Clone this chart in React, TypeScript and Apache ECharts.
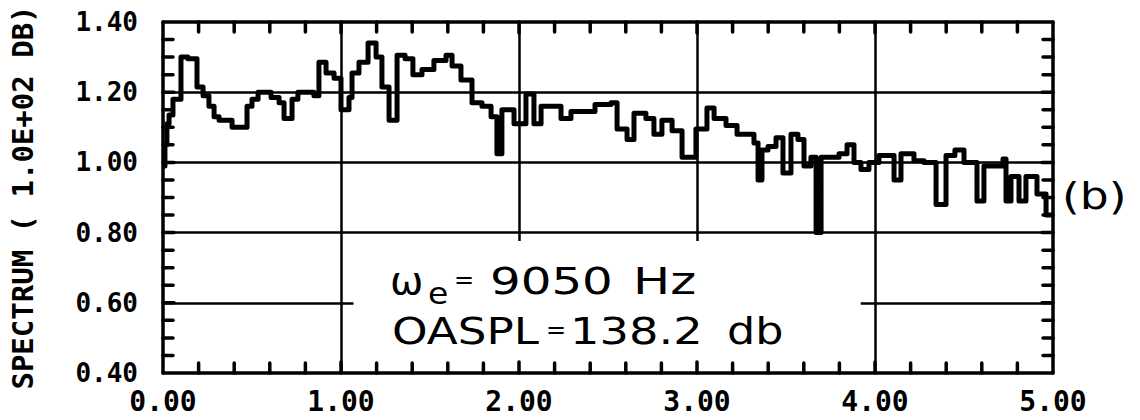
import React, { useEffect, useRef } from "react";
import * as echarts from "echarts";

// Frequency (bin start, same unit as the axis) and spectrum level (x 1.0E+02 dB)
const freq = [
  0.0, 0.011, 0.022, 0.034, 0.056, 0.101, 0.14, 0.191, 0.225, 0.258, 0.287, 0.315,
  0.388, 0.472, 0.5, 0.534, 0.607, 0.652, 0.68, 0.725, 0.758, 0.848, 0.876, 0.916,
  0.961, 1.0, 1.045, 1.062, 1.101, 1.152, 1.197, 1.23, 1.27, 1.315, 1.36, 1.404,
  1.455, 1.522, 1.59, 1.624, 1.674, 1.736, 1.792, 1.843, 1.876, 1.904, 1.972, 2.039,
  2.084, 2.124, 2.236, 2.292, 2.427, 2.517, 2.551, 2.607, 2.646, 2.713, 2.758, 2.803,
  2.86, 2.916, 2.994, 3.056, 3.096, 3.163, 3.225, 3.32, 3.343, 3.365, 3.399, 3.444,
  3.483, 3.528, 3.567, 3.601, 3.64, 3.669, 3.697, 3.798, 3.843, 3.882, 3.921, 3.966,
  4.022, 4.107, 4.146, 4.219, 4.275, 4.343, 4.399, 4.449, 4.5, 4.573, 4.612, 4.719,
  4.736, 4.764, 4.809, 4.848, 4.91, 4.961, 5.0,
];
const spectrum = [
  0.99, 1.05, 1.11, 1.135, 1.18, 1.3, 1.295, 1.215, 1.19, 1.16, 1.13, 1.12,
  1.1, 1.16, 1.18, 1.2, 1.185, 1.17, 1.125, 1.18, 1.2, 1.19, 1.285, 1.255,
  1.24, 1.15, 1.185, 1.255, 1.285, 1.34, 1.3, 1.215, 1.12, 1.305, 1.295, 1.25,
  1.265, 1.29, 1.305, 1.275, 1.235, 1.17, 1.16, 1.13, 1.025, 1.15, 1.11, 1.195,
  1.11, 1.16, 1.125, 1.145, 1.165, 1.17, 1.095, 1.065, 1.14, 1.125, 1.08, 1.12,
  1.09, 1.015, 1.095, 1.155, 1.125, 1.105, 1.08, 1.055, 0.95, 1.035, 1.045, 1.07,
  0.97, 1.08, 1.065, 0.99, 1.015, 0.8, 1.015, 1.025, 1.05, 1.0, 0.98, 1.0,
  1.02, 0.95, 1.025, 1.005, 1.0, 0.88, 1.02, 1.035, 1.0, 0.89, 0.99, 1.01,
  0.89, 0.96, 0.89, 0.96, 0.91, 0.85, 0.85,
];

const xMin = 0;
const xMax = 5;
const xStep = 1;
const xMinorStep = 0.2;
const yMin = 0.4;
const yMax = 1.4;
const yStep = 0.2;
const yMinorStep = 0.05;

const gridYFull = [0.8, 1.0, 1.2];
const gridXFull = [1, 4];
const gridXBroken = [2, 3];
const gridYBroken = [0.6];
// extent of the blank box behind the annotation (data units)
const boxLeft = 1.07;
const boxRight = 3.92;
const boxTop = 0.776;

const yTitle = "SPECTRUM ( 1.0E+02 DB)";
const panelLabel = "(b)";

const MONO = '"DejaVu Sans Mono", "Liberation Mono", monospace';
const SANS = '"DejaVu Sans", "Liberation Sans", sans-serif';

export default function App() {
  const ref = useRef<HTMLDivElement>(null);
  useEffect(() => {
    if (!ref.current) return;
    const chart = echarts.init(ref.current, undefined, { renderer: "svg" });
    const data = freq.map((f, i) => [f, spectrum[i]]);
    const black = "#000";

    const markData: any[] = [];
    gridYFull.forEach((v) => markData.push([{ coord: [xMin, v] }, { coord: [xMax, v] }]));
    gridXFull.forEach((v) => markData.push([{ coord: [v, yMin] }, { coord: [v, yMax] }]));
    gridXBroken.forEach((v) => markData.push([{ coord: [v, boxTop] }, { coord: [v, yMax] }]));
    gridYBroken.forEach((v) => {
      markData.push([{ coord: [xMin, v] }, { coord: [boxLeft, v] }]);
      markData.push([{ coord: [boxRight, v] }, { coord: [xMax, v] }]);
    });

    // tick marks: [value, 0 bottom | 1 top | 2 left | 3 right, major?]
    const ticks: number[][] = [];
    const nx = Math.round((xMax - xMin) / xMinorStep);
    for (let i = 1; i < nx; i++) {
      const v = +(xMin + i * xMinorStep).toFixed(4);
      const major = i % Math.round(xStep / xMinorStep) === 0 ? 1 : 0;
      ticks.push([v, yMin, 0, major]);
      ticks.push([v, yMax, 1, major]);
    }
    const ny = Math.round((yMax - yMin) / yMinorStep);
    for (let i = 1; i < ny; i++) {
      const v = +(yMin + i * yMinorStep).toFixed(4);
      const major = i % Math.round(yStep / yMinorStep) === 0 ? 1 : 0;
      ticks.push([xMin, v, 2, major]);
      ticks.push([xMax, v, 3, major]);
    }

    const axisCommon = {
      type: "value" as const,
      axisLine: { show: true, onZero: false, lineStyle: { color: black, width: 3.5 } },
      axisTick: { show: false },
      minorTick: { show: false },
      splitLine: { show: false },
    };

    chart.setOption({
      animation: false,
      backgroundColor: "#fff",
      grid: { left: 163, right: 87, top: 22, bottom: 47, containLabel: false },
      xAxis: [
        {
          ...axisCommon,
          position: "bottom",
          min: xMin,
          max: xMax,
          interval: xStep,
          axisLabel: {
            show: true,
            margin: 14,
            color: black,
            fontFamily: MONO,
            fontWeight: "bold",
            fontSize: 28,
            formatter: (v: number) => v.toFixed(2),
          },
        },
        {
          ...axisCommon,
          position: "top",
          min: xMin,
          max: xMax,
          interval: xStep,
          axisLabel: { show: false },
        },
      ],
      yAxis: [
        {
          ...axisCommon,
          position: "left",
          min: yMin,
          max: yMax,
          interval: yStep,
          axisLabel: {
            show: true,
            margin: 25,
            color: black,
            fontFamily: MONO,
            fontWeight: "bold",
            fontSize: 26,
            formatter: (v: number) => v.toFixed(2),
          },
          name: yTitle,
          nameLocation: "middle",
          nameRotate: 90,
          nameGap: 126,
          nameTextStyle: { color: black, fontFamily: MONO, fontWeight: "bold", fontSize: 29 },
        },
        {
          ...axisCommon,
          position: "right",
          min: yMin,
          max: yMax,
          interval: yStep,
          axisLabel: { show: false },
        },
      ],
      series: [
        {
          type: "custom",
          name: "ticks",
          silent: true,
          clip: false,
          xAxisIndex: 0,
          yAxisIndex: 0,
          data: ticks,
          z: 4,
          renderItem: (params: any, api: any) => {
            const p = api.coord([api.value(0), api.value(1)]);
            const side = api.value(2);
            const len = api.value(3) ? 11 : 10;
            let x2 = p[0];
            let y2 = p[1];
            if (side === 0) y2 -= len;
            else if (side === 1) y2 += len;
            else if (side === 2) x2 += len;
            else x2 -= len;
            return {
              type: "line",
              shape: { x1: p[0], y1: p[1], x2, y2 },
              style: { stroke: black, lineWidth: 3.5, lineCap: "round" },
            };
          },
        },
        {
          type: "line",
          step: "end",
          data,
          xAxisIndex: 0,
          yAxisIndex: 0,
          showSymbol: false,
          symbol: "none",
          lineStyle: { color: black, width: 5, join: "round" },
          markLine: {
            silent: true,
            symbol: "none",
            label: { show: false },
            lineStyle: { color: black, width: 2.5, type: "solid" },
            data: markData,
            z: 1,
          },
          z: 3,
        },
      ],
      graphic: [
        { type: "text", x: 390, y: 281, scaleX: 1.05, style: { text: "ω", font: `38px ${SANS}`, fill: black, textAlign: "left", textVerticalAlign: "middle" } },
        { type: "text", x: 428, y: 294, scaleX: 1.1, style: { text: "e", font: `30px ${SANS}`, fill: black, textAlign: "left", textVerticalAlign: "middle" } },
        { type: "text", x: 454, y: 280, scaleX: 1.0, style: { text: "=", font: `24px ${SANS}`, fill: black, textAlign: "left", textVerticalAlign: "middle" } },
        { type: "text", x: 490, y: 281, scaleX: 1.27, style: { text: "9050", font: `38px ${SANS}`, fill: black, textAlign: "left", textVerticalAlign: "middle" } },
        { type: "text", x: 633, y: 281, scaleX: 1.3, style: { text: "Hz", font: `38px ${SANS}`, fill: black, textAlign: "left", textVerticalAlign: "middle" } },
        { type: "text", x: 392, y: 331, scaleX: 1.19, style: { text: "OASPL", font: `38px ${SANS}`, fill: black, textAlign: "left", textVerticalAlign: "middle" } },
        { type: "text", x: 546, y: 330, scaleX: 1.0, style: { text: "=", font: `24px ${SANS}`, fill: black, textAlign: "left", textVerticalAlign: "middle" } },
        { type: "text", x: 570, y: 331, scaleX: 1.22, style: { text: "138.2", font: `38px ${SANS}`, fill: black, textAlign: "left", textVerticalAlign: "middle" } },
        { type: "text", x: 727, y: 331, scaleX: 1.17, style: { text: "db", font: `38px ${SANS}`, fill: black, textAlign: "left", textVerticalAlign: "middle" } },
        { type: "text", x: 1062, y: 196, scaleX: 1.2, style: { text: panelLabel, font: `38px ${SANS}`, fill: black, textAlign: "left", textVerticalAlign: "middle" } },
      ],
    });
    return () => chart.dispose();
  }, []);
  return (
    <div
      ref={ref}
      style={{ position: "fixed", left: 0, top: 0, width: 1140, height: 420, background: "#fff" }}
    />
  );
}
